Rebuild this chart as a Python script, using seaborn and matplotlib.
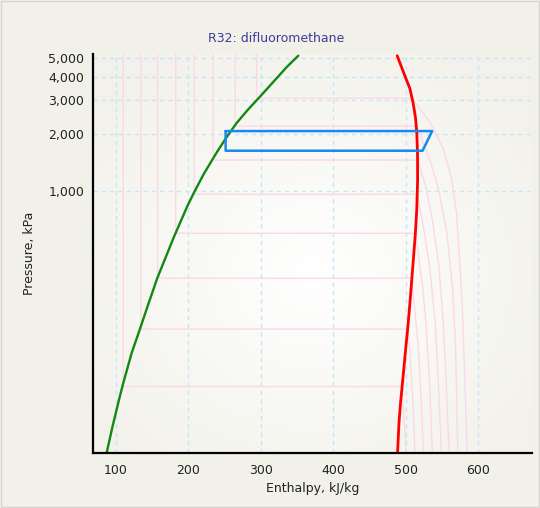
import numpy as np
import pandas as pd
import matplotlib
matplotlib.use("Agg")
import matplotlib.pyplot as plt
import seaborn as sns
from matplotlib.ticker import FixedLocator, NullLocator
from matplotlib.patches import Rectangle

# ---------------- data ----------------
# saturated liquid line (enthalpy kJ/kg, pressure kPa)
liq_h = [87.6, 95.0, 105.0, 110.3, 122.0, 133.0, 145.5, 157.3, 180.5, 198.5,
         207.5, 222.0, 240.0, 253.5, 266.5, 282.0, 299.0, 319.7, 336.5, 352.0]
liq_p = [41.4, 55.6, 80, 96, 139, 184, 255, 345, 572, 823,
         969, 1235, 1606, 1928, 2268, 2666, 3134, 3836, 4518, 5160]

# saturated vapour line
vap_h = [489.0, 491.0, 493.2, 496.5, 500.2, 503.4, 505.6, 507.8, 509.6, 511.4,
         513.5, 515.4, 516.6, 516.5, 515.5, 513.8, 510.5, 505.9, 499.5, 488.4]
vap_p = [42, 60.5, 77, 104, 147, 196, 245, 312, 382, 467,
         596, 791, 1139, 1542, 2009, 2410, 2893, 3468, 3997, 5160]

# refrigeration cycle
cycle_h = [251.7, 536.7, 523.4, 251.7, 251.7]
cycle_p = [2065, 2065, 1626, 1626, 2065]

# isotherms (°C): liquid enthalpy, saturation pressure, vapour branch points
iso_t = [-55, -40, -25, -10, 5, 20, 35, 50]
iso_hliq = [110.5, 134.9, 157.9, 182.8, 208.3, 234.6, 264.6, 294.5]
iso_psat = [92.5, 186, 345, 596, 957, 1452, 2195, 3074]
iso_vap_h = [
    [495.3, 497.0, 499.5, 500.5],
    [503.3, 506.5, 510.0, 513.0],
    [508.0, 512.0, 517.5, 521.5, 524.6],
    [513.8, 518.0, 524.0, 528.0, 533.0, 537.0],
    [516.3, 520.0, 526.0, 533.0, 541.0, 545.0, 549.6],
    [516.6, 521.0, 529.0, 537.0, 546.0, 552.0, 556.0, 560.0],
    [515.0, 524.0, 535.0, 546.0, 557.0, 565.0, 569.0, 572.0],
    [509.0, 533.5, 551.9, 563.4, 570.3, 576.3, 579.0, 585.0],
]
iso_vap_p = [
    [92.5, 70, 50, 41],
    [186, 130, 80, 41],
    [345, 250, 150, 80, 41],
    [596, 450, 300, 200, 100, 41],
    [957, 800, 600, 400, 200, 100, 41],
    [1452, 1300, 1000, 700, 400, 200, 100, 41],
    [2195, 1800, 1400, 1000, 600, 300, 150, 41],
    [3074, 2311, 1674, 1162, 760, 338, 208, 41],
]
p_top = 6000

x_major = [100, 200, 300, 400, 500, 600]
x_minor = list(range(75, 675, 25))
y_major = [1000, 2000, 3000, 4000, 5000]
y_labels = ["1,000", "2,000", "3,000", "4,000", "5,000"]

title = "R32: difluoromethane"
xlabel = "Enthalpy, kJ/kg"
ylabel = "Pressure, kPa"

# ---------------- drawing ----------------
sns.set_style("white")
plt.rcParams["font.family"] = ["DejaVu Sans"]

fig = plt.figure(figsize=(5.4, 5.08), dpi=100, facecolor="#f1f0e9")
fig.patches.append(Rectangle((0.001, 0.001), 0.997, 0.997, transform=fig.transFigure,
                             fill=False, edgecolor="#d6d6ce", lw=1.0))
ax = fig.add_axes([0.1717, 0.1077, 0.8129, 0.7854])
ax.set_facecolor("#f7f7f2")

# soft radial background gradient
gy, gx = np.mgrid[0:1:200j, 0:1:200j]
r = np.sqrt(((gx - 0.5) / 0.6) ** 2 + ((gy - 0.55) / 0.6) ** 2)
g = np.clip(r, 0, 1)
c0 = np.array([1.0, 1.0, 1.0])
c1 = np.array([0.953, 0.949, 0.922])
img = c0[None, None, :] * (1 - g[..., None]) + c1[None, None, :] * g[..., None]
ax.imshow(img, extent=[0, 1, 0, 1], transform=ax.transAxes, aspect="auto",
          zorder=0, interpolation="bilinear")

ax.set_yscale("log")
ax.set_xlim(68.3, 674)
ax.set_ylim(41.1, 5250)

# grid
for xv in x_major:
    ax.axvline(xv, color="#c4e6f8", lw=1.0, ls=(0, (3, 3)), zorder=1)
for yv in y_major:
    ax.axhline(yv, color="#c4e6f8", lw=1.0, ls=(0, (3, 3)), zorder=1)

# isotherms
pink = "#f9d9e6"
for t, hl, ps, vh, vp in zip(iso_t, iso_hliq, iso_psat, iso_vap_h, iso_vap_p):
    hs = [hl, hl] + vh
    ps_ = [p_top, ps] + vp
    d = pd.DataFrame({"h": hs, "p": ps_})
    sns.lineplot(data=d, x="h", y="p", sort=False, ax=ax, color=pink,
                 lw=1.0, zorder=2, estimator=None)

# saturation lines
dl = pd.DataFrame({"h": liq_h, "p": liq_p})
dv = pd.DataFrame({"h": vap_h, "p": vap_p})
sns.lineplot(data=dl, x="h", y="p", sort=False, ax=ax, color="#128812",
             lw=1.7, zorder=4, estimator=None)
sns.lineplot(data=dv, x="h", y="p", sort=False, ax=ax, color="#ff0000",
             lw=2.0, zorder=4, estimator=None)

# cycle
dc = pd.DataFrame({"h": cycle_h, "p": cycle_p})
sns.lineplot(data=dc, x="h", y="p", sort=False, ax=ax, color="#1a88f0",
             lw=1.8, zorder=5, estimator=None)

# axes styling
for s in ["top", "right"]:
    ax.spines[s].set_visible(False)
for s in ["left", "bottom"]:
    ax.spines[s].set_color("black")
    ax.spines[s].set_linewidth(1.6)
    ax.spines[s].set_zorder(6)

ax.xaxis.set_major_locator(FixedLocator(x_major))
ax.xaxis.set_minor_locator(FixedLocator(x_minor))
ax.yaxis.set_major_locator(FixedLocator(y_major))
ax.yaxis.set_minor_locator(NullLocator())
ax.set_yticklabels(y_labels)
ax.tick_params(axis="both", which="both", direction="out", color="#555555",
               labelsize=9, labelcolor="#222222", width=0.8)
ax.tick_params(axis="x", which="major", length=4, pad=4)
ax.tick_params(axis="x", which="minor", length=4)
ax.tick_params(axis="y", which="major", length=4, pad=2)

ax.set_xlabel(xlabel, fontsize=9, color="#222222", labelpad=3)
ax.set_ylabel(ylabel, fontsize=9, color="#222222", labelpad=9)
fig.text(0.512, 0.925, title, ha="center", va="center", fontsize=9,
         color="#3c3c9c")

fig.savefig("out.png", dpi=100, facecolor=fig.get_facecolor())
